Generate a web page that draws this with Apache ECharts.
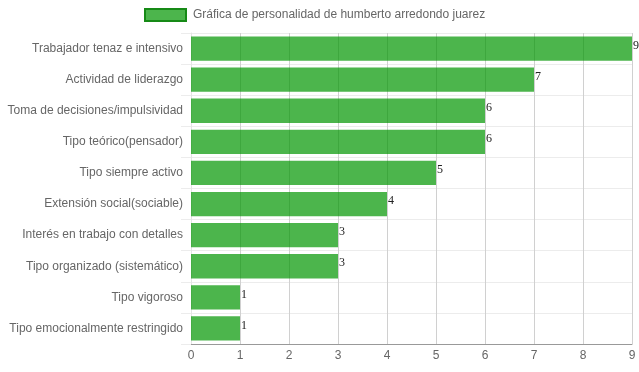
<!DOCTYPE html>
<html><head><meta charset="utf-8">
<script src="https://cdn.jsdelivr.net/npm/echarts@6/dist/echarts.min.js"></script>
<style>html,body{margin:0;padding:0;background:#fff}#c{width:639px;height:372px}</style>
</head><body><div id="c"></div>
<script>
const categories = [
  "Trabajador tenaz e intensivo",
  "Actividad de liderazgo",
  "Toma de decisiones/impulsividad",
  "Tipo teórico(pensador)",
  "Tipo siempre activo",
  "Extensión social(sociable)",
  "Interés en trabajo con detalles",
  "Tipo organizado (sistemático)",
  "Tipo vigoroso",
  "Tipo emocionalmente restringido"
];
const values = [9, 7, 6, 6, 5, 4, 3, 3, 1, 1];
const seriesName = "Gráfica de personalidad de humberto arredondo juarez";
const xTicks = [0, 1, 2, 3, 4, 5, 6, 7, 8, 9];

const chart = echarts.init(document.getElementById('c'), null, {renderer: 'canvas'});
chart.setOption({
  animation: false,
  legend: {
    top: 3, left: 139,
    itemWidth: 41, itemHeight: 12, itemGap: 9,
    textStyle: {color: '#666', fontSize: 12, fontFamily: 'Liberation Sans, Arial', padding: [0, 0, 0, 2]},
    data: [{name: seriesName, icon: 'rect', itemStyle: {color: 'rgba(0,150,0,0.7)', borderColor: '#168a16', borderWidth: 2}}]
  },
  grid: {left: 191, right: 7, top: 33, bottom: 28, containLabel: false},
  xAxis: {
    type: 'value', min: 0, max: 9, interval: 1,
    axisLine: {show: true, lineStyle: {color: '#999'}},
    axisTick: {show: false},
    splitLine: {show: true, lineStyle: {color: '#d0d0d0'}},
    axisLabel: {color: '#666', fontSize: 12, fontFamily: 'Liberation Sans, Arial', margin: 6,
      formatter: v => xTicks.includes(v) ? String(v) : ''}
  },
  yAxis: {
    type: 'category', inverse: true, data: categories,
    axisLine: {show: true, lineStyle: {color: '#e4e4e4'}},
    axisTick: {show: true, length: 10, lineStyle: {color: '#ececec'}},
    splitLine: {show: true, lineStyle: {color: '#ececec'}},
    axisLabel: {color: '#666', fontSize: 12, fontFamily: 'Liberation Sans, Arial', margin: 8}
  },
  series: [{
    name: seriesName, type: 'bar', data: values,
    barCategoryGap: '22%',
    itemStyle: {color: 'rgba(0,150,0,0.7)'},
    label: {show: true, position: 'right', distance: 1, color: '#222', fontSize: 12, fontFamily: 'Liberation Serif, Times New Roman', offset: [0, -3]}
  }]
});
</script></body></html>
